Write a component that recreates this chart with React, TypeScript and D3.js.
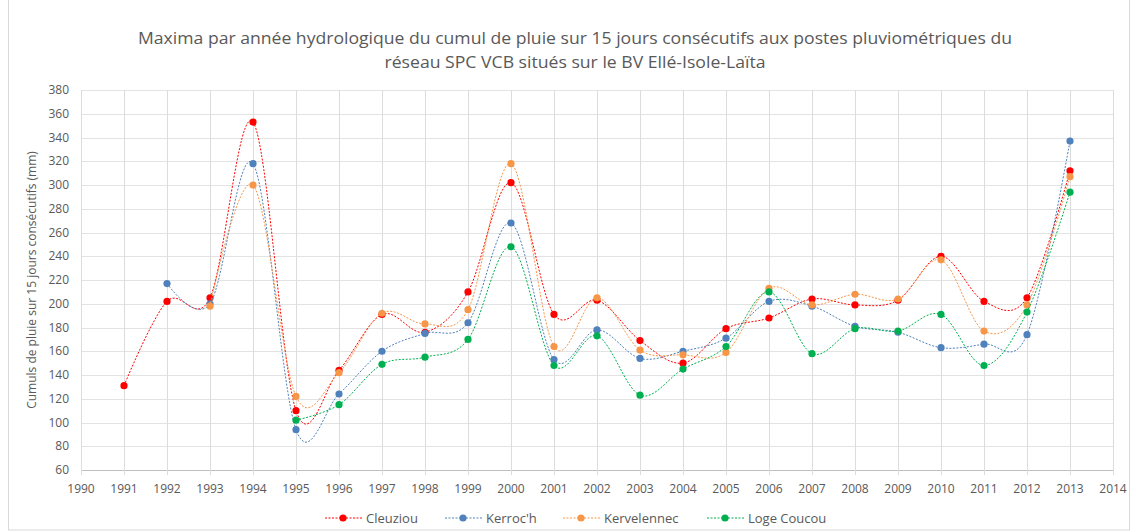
import React, { useEffect, useRef } from "react";
import * as d3 from "d3";

// hydrological years shown on the chart
const years = [
    1991, 1992, 1993, 1994, 1995, 1996, 1997, 1998, 1999, 2000, 2001, 2002,
    2003, 2004, 2005, 2006, 2007, 2008, 2009, 2010, 2011, 2012, 2013,
];

const cleuziou = [
    131, 202, 205, 353, 110, 144, 191, 176, 210, 302, 191, 203, 169, 150, 179,
    188, 204, 199, 203, 240, 202, 205, 312,
];
const kerroch = [
    null, 217, 200, 318, 94, 124, 160, 175, 184, 268, 153, 178, 154, 160, 171,
    202, 198, 181, 176, 163, 166, 174, 337,
];
const kervelennec = [
    null, null, 198, 300, 122, 142, 192, 183, 195, 318, 164, 205, 161, 157, 159,
    213, 199, 208, 204, 237, 177, 199, 307,
];
const logeCoucou = [
    null, null, null, null, 102, 115, 149, 155, 170, 248, 148, 173, 123, 145, 164,
    210, 158, 179, 177, 191, 148, 193, 294,
];

const seriesNames = ["Cleuziou", "Kerroc'h", "Kervelennec", "Loge Coucou"];
const seriesValues = [cleuziou, kerroch, kervelennec, logeCoucou];
const seriesColors = ["#FF0000", "#4F81BD", "#F79646", "#00B050"];

const yTicks = d3.range(60, 381, 20);
const xTicks = d3.range(1990, 2015, 1);

const titleLines = [
    "Maxima par année hydrologique du cumul de pluie sur 15 jours consécutifs aux postes pluviométriques du",
    "réseau SPC VCB situés sur le BV Ellé-Isole-Laïta",
];
const yLabel = "Cumuls de pluie sur 15 jours consécutifs (mm)";

const App: React.FC = () => {
    const svgRef = useRef<SVGSVGElement>(null);

    const W = 1136;
    const H = 532;
    const plot = { left: 81, right: 1113, top: 90, bottom: 470 };
    const font = "'Open Sans', 'Liberation Sans', sans-serif";
    const grey = "#595959";

    useEffect(() => {
        if (!svgRef.current) return;
        const svg = d3.select(svgRef.current);
        svg.selectAll("*").remove();

        const x = d3.scaleLinear().domain([1990, 2014]).range([plot.left, plot.right]);
        const y = d3.scaleLinear().domain([60, 380]).range([plot.bottom, plot.top]);

        // chart border
        svg.append("rect")
            .attr("x", 8.5)
            .attr("y", -1)
            .attr("width", 1121)
            .attr("height", 531)
            .attr("fill", "white")
            .attr("stroke", "#d9d9d9");

        // title
        svg.selectAll(".title")
            .data(titleLines)
            .enter()
            .append("text")
            .attr("x", 575)
            .attr("y", (_, i) => 44 + i * 24)
            .attr("text-anchor", "middle")
            .attr("font-family", font)
            .attr("font-size", 17)
            .attr("fill", grey)
            .attr("textLength", (_, i) => (i === 0 ? 874 : 381))
            .attr("lengthAdjust", "spacingAndGlyphs")
            .text((d) => d);

        // grid
        svg.append("g")
            .selectAll("line")
            .data(yTicks)
            .enter()
            .append("line")
            .attr("x1", plot.left)
            .attr("x2", plot.right)
            .attr("y1", (d) => Math.round(y(d)) + 0.5)
            .attr("y2", (d) => Math.round(y(d)) + 0.5)
            .attr("stroke", (d) => (d === 60 ? "#bfbfbf" : "#e3e3e3"));

        svg.append("g")
            .selectAll("line")
            .data(xTicks)
            .enter()
            .append("line")
            .attr("x1", (d) => Math.round(x(d)) + 0.5)
            .attr("x2", (d) => Math.round(x(d)) + 0.5)
            .attr("y1", plot.top)
            .attr("y2", plot.bottom + 5)
            .attr("stroke", "#dcdcdc");

        // tick labels
        svg.append("g")
            .selectAll("text")
            .data(yTicks)
            .enter()
            .append("text")
            .attr("x", 69)
            .attr("y", (d) => y(d))
            .attr("dy", "0.35em")
            .attr("text-anchor", "end")
            .attr("font-family", font)
            .attr("font-size", 12)
            .attr("fill", grey)
            .text((d) => d);

        svg.append("g")
            .selectAll("text")
            .data(xTicks)
            .enter()
            .append("text")
            .attr("x", (d) => x(d))
            .attr("y", 493)
            .attr("text-anchor", "middle")
            .attr("font-family", font)
            .attr("font-size", 12)
            .attr("fill", grey)
            .text((d) => d);

        // y-axis label
        svg.append("text")
            .attr("transform", `translate(36,${(plot.top + plot.bottom) / 2}) rotate(-90)`)
            .attr("text-anchor", "middle")
            .attr("font-family", font)
            .attr("font-size", 12)
            .attr("fill", grey)
            .text(yLabel);

        // series
        const line = d3
            .line<[number, number]>()
            .x((d) => x(d[0]))
            .y((d) => y(d[1]))
            .curve(d3.curveCatmullRom.alpha(0));

        seriesValues.forEach((vals, i) => {
            const pts = years
                .map((yr, j) => [yr, vals[j]] as [number, number | null])
                .filter((p) => p[1] !== null) as [number, number][];
            const g = svg.append("g");
            g.append("path")
                .attr("d", line(pts))
                .attr("fill", "none")
                .attr("stroke", seriesColors[i])
                .attr("stroke-width", 1)
                .attr("stroke-dasharray", "2,1.5");
            g.selectAll("circle")
                .data(pts)
                .enter()
                .append("circle")
                .attr("cx", (d) => x(d[0]))
                .attr("cy", (d) => y(d[1]))
                .attr("r", 3.6)
                .attr("fill", seriesColors[i]);
        });

        // legend
        const legendX = [325, 445, 563, 707];
        const legend = svg.append("g");
        seriesNames.forEach((name, i) => {
            const lx = legendX[i];
            legend.append("line")
                .attr("x1", lx)
                .attr("x2", lx + 37)
                .attr("y1", 518)
                .attr("y2", 518)
                .attr("stroke", seriesColors[i])
                .attr("stroke-dasharray", "2,1.5");
            legend.append("circle")
                .attr("cx", lx + 18)
                .attr("cy", 518)
                .attr("r", 3.6)
                .attr("fill", seriesColors[i]);
            legend.append("text")
                .attr("x", lx + 41)
                .attr("y", 518)
                .attr("dy", "0.35em")
                .attr("font-family", font)
                .attr("font-size", 13)
                .attr("fill", grey)
                .text(name);
        });
    }, []);

    return (
        <svg
            ref={svgRef}
            width={W}
            height={H}
            style={{ position: "absolute", left: 0, top: 0, background: "white" }}
        />
    );
};

export default App;
